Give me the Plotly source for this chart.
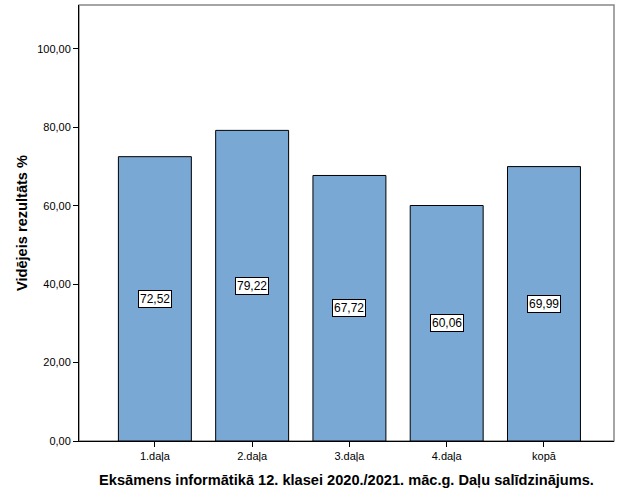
import plotly.graph_objects as go

categories = ["1.daļa", "2.daļa", "3.daļa", "4.daļa", "kopā"]
values = [72.52, 79.22, 67.72, 60.06, 69.99]
labels = ["72,52", "79,22", "67,72", "60,06", "69,99"]
y_ticks = [0, 20, 40, 60, 80, 100]
y_tick_text = ["0,00", "20,00", "40,00", "60,00", "80,00", "100,00"]

FONT = "Liberation Sans, Arial, sans-serif"

fig = go.Figure()
fig.add_trace(go.Bar(
    x=list(range(len(categories))), y=values,
    width=0.75,
    marker=dict(color="#79A8D5", line=dict(color="black", width=1)),
    hoverinfo="skip",
))

for i, (v, t) in enumerate(zip(values, labels)):
    fig.add_annotation(
        x=i, y=v / 2, text=t, showarrow=False,
        font=dict(family=FONT, size=12, color="black"),
        bgcolor="white", bordercolor="black", borderwidth=1, borderpad=1,
    )

# grey frame (top/right)
fig.add_shape(type="rect", xref="paper", yref="paper", x0=0, x1=1, y0=0, y1=1,
              line=dict(color="#888888", width=1.5), layer="below")

fig.update_layout(
    width=625, height=500,
    margin=dict(l=79, r=11, t=5, b=59),
    plot_bgcolor="white", paper_bgcolor="white",
    showlegend=False,
    font=dict(family=FONT, size=11, color="black"),
    xaxis=dict(
        range=[-0.78, 4.72],
        tickmode="array", tickvals=list(range(len(categories))), ticktext=categories,
        ticks="outside", ticklen=5, tickcolor="black", tickwidth=1,
        showline=True, linecolor="black", linewidth=1,
        showgrid=False, zeroline=False,
        tickfont=dict(family=FONT, size=11),
        title=dict(text="<b>Eksāmens informātikā 12. klasei 2020./2021. māc.g. Daļu salīdzinājums.</b>",
                   font=dict(family=FONT, size=14.6), standoff=13),
    ),
    yaxis=dict(
        range=[0, 111.2],
        tickmode="array", tickvals=y_ticks, ticktext=y_tick_text,
        ticks="outside", ticklen=5, tickcolor="black", tickwidth=1,
        showline=True, linecolor="black", linewidth=1,
        showgrid=False, zeroline=False,
        tickfont=dict(family=FONT, size=11),
        title=dict(text="<b>Vidējeis rezultāts %</b>", font=dict(family=FONT, size=14.6), standoff=6),
    ),
)

fig.write_html("out.html", config={"displayModeBar": False},
               post_script="document.body.style.margin='0';")
